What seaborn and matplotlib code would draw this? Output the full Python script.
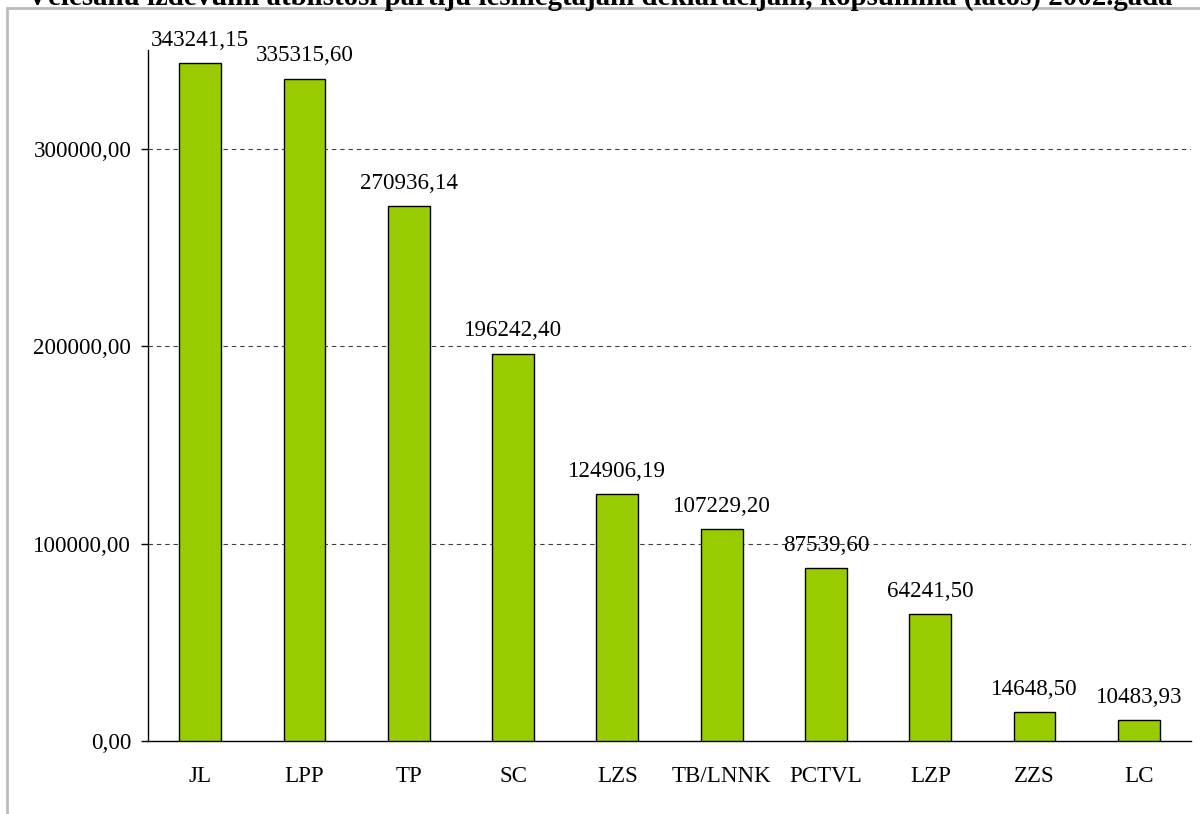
import matplotlib
matplotlib.use('Agg')
import matplotlib.pyplot as plt
import seaborn as sns
import pandas as pd
import numpy as np
from matplotlib.patches import Rectangle

# data
parties = ['JL', 'LPP', 'TP', 'SC', 'LZS', 'TB/LNNK', 'PCTVL', 'LZP', 'ZZS', 'LC']
spending = [343241.15, 335315.60, 270936.14, 196242.40, 124906.19,
            107229.20, 87539.60, 64241.50, 14648.50, 10483.93]
y_ticks = [0, 100000, 200000, 300000]
title = 'Vēlēšanu izdevumi atbilstoši partiju iesniegtajām deklarācijām, kopsummā (latos) 2002.gadā'

df = pd.DataFrame({'party': parties, 'spending': spending})

def fmt(v):
    return f'{v:.2f}'.replace('.', ',')

sns.set_style('white')
plt.rcParams['font.family'] = ['Liberation Serif', 'DejaVu Serif']
plt.rcParams['text.color'] = 'black'
plt.rcParams['xtick.color'] = 'black'
plt.rcParams['ytick.color'] = 'black'
fs = 16.6

fig = plt.figure(figsize=(12, 8.14), dpi=100)
ax = fig.add_axes([148 / 1200, 1 - 741 / 814, (1191 - 148) / 1200, (741 - 50) / 814])

sns.barplot(data=df, x='party', y='spending', color='#99CC00', width=0.4,
            edgecolor='black', linewidth=1.0, saturation=1, ax=ax, zorder=3)

ax.set_ylim(0, 350000)
ax.set_xlim(-0.5, len(parties) - 0.5)
ax.set_yticks(y_ticks)
ax.set_yticklabels([fmt(t) for t in y_ticks])
for t in y_ticks[1:]:
    ax.axhline(t, color='#404040', linewidth=0.8, dashes=(4, 3.5), zorder=1)

# value labels over the bars
for i, v in enumerate(spending):
    ax.annotate(fmt(v), (i, v), xytext=(0, 9), textcoords='offset points',
                ha='center', va='bottom', fontsize=fs, color='black')

ax.set_xlabel('')
ax.set_ylabel('')
ax.set_xticks(np.arange(-0.5, len(parties), 1.0), minor=True)
ax.tick_params(axis='x', which='major', length=0, pad=18, labelsize=fs, labelcolor='black')
ax.tick_params(axis='x', which='minor', length=5, width=1, direction='out', color='black')
ax.tick_params(axis='y', length=5, width=1, direction='out', pad=7, labelsize=fs,
               color='black', labelcolor='black')
ax.tick_params(left=True, bottom=True)

for s in ['top', 'right']:
    ax.spines[s].set_visible(False)
for s in ['left', 'bottom']:
    ax.spines[s].set_color('black')
    ax.spines[s].set_linewidth(1.0)

# grey chart frame, cut at right and bottom
fig.patches.append(Rectangle((7 / 1200, -0.1), 1.2, 1 - 8 / 814 + 0.1,
                             transform=fig.transFigure, fill=False,
                             edgecolor='#bbbbbb', linewidth=2))

# title sits mostly above the picture, as in the original
fig.text(0.5, 1 - 5 / 814, title, ha='center', va='baseline',
         fontsize=20.8, fontweight='bold', color='black')

fig.savefig('out.png', dpi=100)
